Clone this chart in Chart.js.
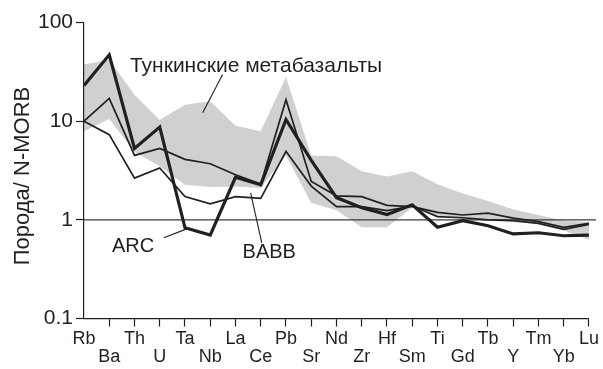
<!DOCTYPE html>
<html>
<head>
<meta charset="utf-8">
<script src="https://cdn.jsdelivr.net/npm/chart.js@4"></script>
<style>
  html, body { margin: 0; padding: 0; background: #fff; }
  #c { display: block; }
</style>
</head>
<body>
<canvas id="c" width="603" height="369"></canvas>
<script>
// Spider diagram: trace elements normalised to N-MORB
const elements = ['Rb','Ba','Th','U','Ta','Nb','La','Ce','Pb','Sr','Nd','Zr','Hf','Sm','Ti','Gd','Tb','Y','Tm','Yb','Lu'];

// Field of the Tunka metabasalts (upper and lower envelope)
const fieldUpper = [37.5, 42, 18.5, 10.3, 14.7, 15.9, 9.0, 7.9, 28, 4.5, 4.4, 3.1, 2.75, 3.1, 2.3, 1.85, 1.55, 1.27, 1.12, 0.98, 0.95];
const fieldLower = [7.9, 10.5, 4.9, 3.5, 2.27, 2.15, 2.18, 2.1, 4.5, 1.48, 1.25, 0.84, 0.84, 1.33, 1.1, 1.02, 1.0, 0.95, 0.9, 0.78, 0.63];

// Reference compositions
const arc   = [23, 47, 5.3, 8.7, 0.83, 0.70, 2.7, 2.27, 10.4, 4.0, 1.68, 1.33, 1.13, 1.42, 0.84, 0.98, 0.87, 0.72, 0.74, 0.69, 0.70];
const babb  = [10, 17, 4.5, 5.3, 4.1, 3.7, 2.86, 2.3, 16.5, 2.45, 1.75, 1.72, 1.4, 1.36, 1.19, 1.12, 1.17, 1.04, 0.96, 0.84, 0.92];
const other = [10, 7.3, 2.65, 3.35, 1.72, 1.45, 1.72, 1.65, 4.95, 2.2, 1.36, 1.36, 1.24, 1.38, 1.08, 1.05, 1.0, 0.98, 0.92, 0.80, 0.90];

const yTicks = [0.1, 1, 10, 100];
const yTickLabels = ['0.1', '1', '10', '100'];
const yTitle = 'Порода/ N-MORB';
const refLevel = 1;

// Text annotations, placed in data space: [category position, value]
const notes = [
  { text: 'Тункинские метабазальты', size: 21, at: [1.82, 31.8], from: [5.49, 29.7], to: [4.70, 12.2] },
  { text: 'ARC',  size: 20, at: [1.107, 0.473], from: [3.16, 0.657], to: [4.07, 0.81] },
  { text: 'BABB', size: 20, at: [6.28, 0.411], from: [7.04, 0.584], to: [6.60, 1.88] }
];

const INK = '#231f20';
const FONT = "'Liberation Sans', Arial, Helvetica, sans-serif";

const refLinePlugin = {
  id: 'refLine',
  beforeDatasetsDraw(chart) {
    const { ctx, chartArea, scales } = chart;
    const y = scales.y.getPixelForValue(refLevel);
    ctx.save();
    ctx.strokeStyle = '#3a3a3a';
    ctx.lineWidth = 1.2;
    ctx.beginPath();
    ctx.moveTo(chartArea.left, y);
    ctx.lineTo(chartArea.right + 7, y);
    ctx.stroke();
    ctx.restore();
  }
};

// Rotated y-axis caption, centred a little below the middle of the axis
const yTitlePlugin = {
  id: 'yTitle',
  afterDraw(chart) {
    const { ctx, scales } = chart;
    const s = scales.y;
    const cy = (s.top + s.bottom) / 2 + 5.5;
    ctx.save();
    ctx.translate(29, cy);
    ctx.rotate(-Math.PI / 2);
    ctx.fillStyle = INK;
    ctx.font = '22px ' + FONT;
    ctx.textAlign = 'center';
    ctx.textBaseline = 'alphabetic';
    ctx.fillText(yTitle, 0, 0);
    ctx.restore();
  }
};

const notesPlugin = {
  id: 'notes',
  afterDatasetsDraw(chart) {
    const { ctx, scales } = chart;
    const px = p => [scales.x.getPixelForValue(p[0]), scales.y.getPixelForValue(p[1])];
    ctx.save();
    ctx.fillStyle = INK;
    ctx.strokeStyle = INK;
    ctx.lineWidth = 1.1;
    ctx.textAlign = 'left';
    ctx.textBaseline = 'alphabetic';
    notes.forEach(n => {
      const [tx, ty] = px(n.at);
      ctx.font = n.size + 'px ' + FONT;
      ctx.fillText(n.text, tx, ty);
      const [x1, y1] = px(n.from);
      const [x2, y2] = px(n.to);
      ctx.beginPath();
      ctx.moveTo(x1, y1);
      ctx.lineTo(x2, y2);
      ctx.stroke();
    });
    ctx.restore();
  }
};

const lineStyle = (data, width) => ({
  data,
  borderColor: INK,
  borderWidth: width,
  pointRadius: 0,
  tension: 0,
  fill: false,
  borderJoinStyle: 'miter'
});

new Chart(document.getElementById('c'), {
  type: 'line',
  data: {
    labels: elements,
    datasets: [
      { data: fieldUpper, borderWidth: 0, borderColor: 'rgba(0,0,0,0)', pointRadius: 0, tension: 0,
        backgroundColor: '#cfd0d2', fill: '+1' },
      { data: fieldLower, borderWidth: 0, borderColor: 'rgba(0,0,0,0)', pointRadius: 0, tension: 0, fill: false },
      lineStyle(other, 1.7),
      lineStyle(babb, 1.7),
      lineStyle(arc, 3.2)
    ]
  },
  options: {
    responsive: false,
    animation: false,
    events: [],
    layout: { padding: { top: 22.5, right: 13, left: 0, bottom: 0 } },
    plugins: {
      legend: { display: false },
      tooltip: { enabled: false },
      filler: { drawTime: 'beforeDraw' }
    },
    scales: {
      x: {
        offset: false,
        border: { color: INK, width: 1.2 },
        grid: {
          drawOnChartArea: false,
          tickLength: 8,
          tickWidth: 1.2,
          tickColor: c => (c.index === 0 ? 'rgba(0,0,0,0)' : INK)
        },
        ticks: {
          autoSkip: false,
          maxRotation: 0,
          padding: 4,
          color: INK,
          font: { family: FONT, size: 18, lineHeight: 1.0 },
          callback: (v, i) => (i % 2 ? ['', elements[i]] : elements[i])
        },
        afterFit: s => { s.height = 50.5; }
      },
      y: {
        type: 'logarithmic',
        min: 0.1,
        max: 100,
        border: { color: INK, width: 1.2 },
        grid: { drawOnChartArea: false, tickLength: 8, tickWidth: 1.2, tickColor: INK },
        afterBuildTicks: s => { s.ticks = yTicks.map(v => ({ value: v })); },
        ticks: {
          padding: 3,
          color: INK,
          font: { family: FONT, size: 21 },
          callback: v => yTickLabels[yTicks.indexOf(v)]
        },
        afterFit: s => { s.width = 84; }
      }
    }
  },
  plugins: [refLinePlugin, notesPlugin, yTitlePlugin]
});
</script>
</body>
</html>
